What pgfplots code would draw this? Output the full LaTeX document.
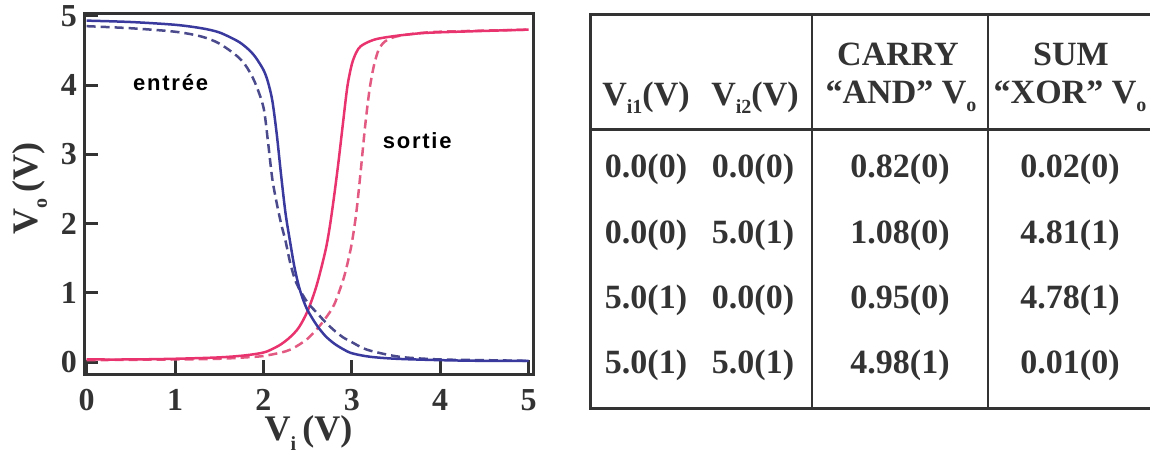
\documentclass[border=0pt]{standalone}
\usepackage{fontspec}
\setmainfont{Liberation Serif}
\newfontfamily\sansb[LetterSpace=8]{Liberation Sans}
\usepackage{pgfplots}
\pgfplotsset{compat=1.18}
\definecolor{axgray}{HTML}{333333}
\definecolor{bluesolid}{HTML}{3A3A9E}
\definecolor{bluedash}{HTML}{4A4A8C}
\definecolor{redsolid}{HTML}{E8336E}
\definecolor{reddash}{HTML}{E25A82}
\newcommand{\sub}[1]{\raisebox{-0.55ex}{\fontsize{10}{10}\selectfont #1}}
\begin{document}
\begin{tikzpicture}
\path[use as bounding box] (0,0) rectangle (575pt,-228.5pt);
\begin{axis}[
  at={(42pt,-187pt)}, anchor=south west,
  scale only axis, width=224.5pt, height=180.5pt,
  xmin=-0.03, xmax=5.05, ymin=-0.17, ymax=5.04,
  xtick={0,1,2,3,4,5}, ytick={0,1,2,3,4,5},
  xtick pos=bottom, ytick pos=left, tick align=inside,
  major tick length=7pt,
  axis line style={axgray, line width=1.5pt},
  every tick/.style={axgray, line width=1.5pt},
  /pgf/number format/assume math mode=true,
  tick label style={font=\bfseries\fontsize{16}{16}\selectfont, text=axgray},
  xticklabel style={yshift=-4pt},
  xlabel={V\sub{i}\,(V)}, ylabel={V\sub{o}\,(V)},
  every axis x label/.style={at={(axis description cs:0.5,0)}, yshift=-29.5pt, anchor=center, font=\bfseries\fontsize{18}{18}\selectfont, text=axgray},
  every axis y label/.style={at={(axis description cs:0,0.515)}, xshift=-27pt, rotate=90, anchor=center, font=\bfseries\fontsize{18}{18}\selectfont, text=axgray},
  clip=false,
]
\addplot[reddash, line width=1.25pt, dash pattern=on 4.5pt off 2.5pt, smooth, tension=0.5] table {
0 0.03
1.0 0.04
1.5 0.05
1.8 0.07
2.0 0.09
2.2 0.14
2.3 0.18
2.4 0.25
2.5 0.34
2.6 0.47
2.7 0.63
2.8 0.83
2.9 1.18
2.95 1.42
3.0 1.72
3.05 2.15
3.1 2.75
3.15 3.4
3.2 3.93
3.25 4.28
3.3 4.5
3.35 4.6
3.4 4.65
3.5 4.7
3.7 4.74
4.0 4.77
5.0 4.8
};
\addplot[redsolid, line width=1.25pt, smooth, tension=0.5] table {
0 0.04
0.5 0.04
1.0 0.05
1.5 0.07
1.8 0.1
2.0 0.14
2.1 0.19
2.2 0.26
2.3 0.36
2.4 0.5
2.5 0.74
2.6 1.1
2.7 1.6
2.75 1.95
2.8 2.4
2.85 2.9
2.9 3.45
2.95 3.98
3.0 4.3
3.05 4.47
3.1 4.56
3.2 4.63
3.3 4.67
3.5 4.71
3.8 4.75
4.2 4.77
5.0 4.8
};
\addplot[bluedash, line width=1.25pt, dash pattern=on 4.5pt off 2.5pt, smooth, tension=0.5] table {
0 4.85
0.5 4.82
1.0 4.77
1.3 4.70
1.5 4.60
1.7 4.42
1.8 4.28
1.9 4.05
2.0 3.68
2.05 3.2
2.1 2.65
2.15 2.3
2.2 2.0
2.25 1.75
2.3 1.45
2.35 1.22
2.4 1.07
2.5 0.86
2.6 0.72
2.7 0.58
2.8 0.46
2.9 0.36
3.0 0.29
3.1 0.22
3.2 0.17
3.4 0.11
3.6 0.07
4.0 0.04
4.5 0.03
5.0 0.02
};
\addplot[bluesolid, line width=1.25pt, smooth, tension=0.5] table {
0 4.93
0.5 4.91
1.0 4.87
1.3 4.82
1.5 4.76
1.7 4.64
1.8 4.55
1.9 4.42
2.0 4.22
2.05 4.05
2.1 3.78
2.15 3.3
2.2 2.7
2.25 2.15
2.3 1.75
2.35 1.38
2.4 1.1
2.45 0.9
2.5 0.75
2.6 0.54
2.7 0.38
2.8 0.27
2.9 0.19
3.0 0.13
3.2 0.08
3.5 0.05
4.0 0.03
4.5 0.02
5.0 0.02
};
\node[font=\sansb\bfseries\fontsize{11}{11}\selectfont] at (axis cs:0.95,4.03) {entrée};
\node[font=\sansb\bfseries\fontsize{11}{11}\selectfont] at (axis cs:3.74,3.2) {sortie};
\end{axis}
\begin{scope}[x=0.5pt,y=-0.5pt]
\draw[axgray, line width=1.5pt] (1160,14) -- (590,14) -- (590,408) -- (1160,408);
\draw[axgray, line width=1.5pt] (590,129) -- (1160,129);
\draw[axgray, line width=1pt] (812,14) -- (812,408);
\draw[axgray, line width=1pt] (988,14) -- (988,408);
\begin{scope}[every node/.style={anchor=base, inner sep=0pt, text=axgray, font=\bfseries\fontsize{17}{17}\selectfont}]
\node at (898,65) {CARRY};
\node at (1071,65) {SUM};
\node at (646,105) {V\sub{i1}(V)};
\node at (755,105) {V\sub{i2}(V)};
\node at (901,103) {“AND” V\sub{o}};
\node at (1070,103) {“XOR” V\sub{o}};
\node at (646,177) {0.0(0)}; \node at (753,177) {0.0(0)}; \node at (900,177) {0.82(0)}; \node at (1070,177) {0.02(0)};
\node at (646,243) {0.0(0)}; \node at (753,243) {5.0(1)}; \node at (900,243) {1.08(0)}; \node at (1070,243) {4.81(1)};
\node at (646,308) {5.0(1)}; \node at (753,308) {0.0(0)}; \node at (900,308) {0.95(0)}; \node at (1070,308) {4.78(1)};
\node at (646,373) {5.0(1)}; \node at (753,373) {5.0(1)}; \node at (900,373) {4.98(1)}; \node at (1070,373) {0.01(0)};
\end{scope}
\end{scope}
\end{tikzpicture}
\end{document}
